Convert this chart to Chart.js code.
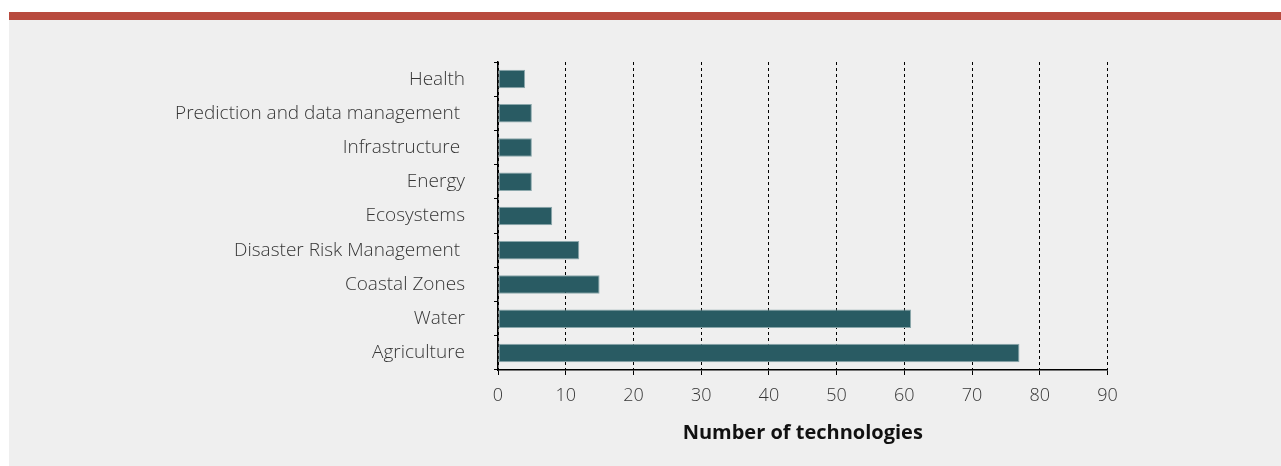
<!DOCTYPE html>
<html>
<head>
<meta charset="utf-8">
<title>Technologies by sector</title>
<script src="https://cdn.jsdelivr.net/npm/chart.js@4.4.1/dist/chart.umd.min.js"></script>
<style>
  html, body { margin: 0; padding: 0; background: #ffffff; }
  body { width: 1281px; height: 466px; position: relative; overflow: hidden; }
  #band { position: absolute; left: 9px; top: 12px; width: 1272px; height: 8px; background: #b84a3e; }
  #panel { position: absolute; left: 9px; top: 20px; width: 1272px; height: 446px; background: #efefef; }
  #wrap { position: absolute; left: 0; top: 0; width: 1281px; height: 466px; }
</style>
</head>
<body>
<div id="band"></div>
<div id="panel"></div>
<div id="wrap"><canvas id="chart" width="1281" height="466"></canvas></div>
<script>
// sectors, top to bottom as in the figure
const sectors = [
  'Health',
  'Prediction and data management ',
  'Infrastructure ',
  'Energy',
  'Ecosystems',
  'Disaster Risk Management ',
  'Coastal Zones',
  'Water',
  'Agriculture'
];

// number of technologies per sector
const techCounts = [4, 5, 5, 5, 8, 12, 15, 61, 77];

// x axis range / step
const xMin = 0;
const xMax = 90;
const xStep = 10;

const textColor = '#363636';

const ctx = document.getElementById('chart').getContext('2d');
new Chart(ctx, {
  type: 'bar',
  data: {
    labels: sectors,
    datasets: [{
      label: 'Number of technologies',
      data: techCounts,
      backgroundColor: '#295b63',
      borderColor: '#8aa7ab',
      borderWidth: 1,
      borderSkipped: false,
      barPercentage: 0.54,
      categoryPercentage: 1.0
    }]
  },
  options: {
    indexAxis: 'y',
    responsive: false,
    animation: false,
    layout: {
      padding: { left: 0, top: 62, right: 173.5, bottom: 0 }
    },
    plugins: {
      legend: { display: false },
      tooltip: { enabled: false }
    },
    scales: {
      x: {
        min: xMin,
        max: xMax,
        ticks: {
          stepSize: xStep,
          color: textColor,
          padding: 10,
          font: { family: '"Open Sans", sans-serif', size: 18, weight: 300 }
        },
        grid: {
          color: '#000000',
          lineWidth: 1,
          tickLength: 5,
          tickColor: '#000000',
          tickBorderDash: []
        },
        border: {
          display: true,
          color: '#000000',
          width: 1.5,
          dash: [3, 3]
        },
        title: {
          display: true,
          text: 'Number of technologies',
          color: '#111111',
          font: { family: '"Open Sans", sans-serif', size: 20, weight: 'bold' },
          padding: { top: 0, bottom: 21 }
        },
        afterFit: function (scale) { scale.height = 96; }
      },
      y: {
        grid: {
          offset: true,
          drawOnChartArea: false,
          drawTicks: true,
          tickLength: 4,
          tickColor: '#000000'
        },
        border: {
          display: true,
          color: '#000000',
          width: 1.5
        },
        ticks: {
          color: textColor,
          padding: 29,
          font: { family: '"Open Sans", sans-serif', size: 19, weight: 300 }
        },
        afterFit: function (scale) { scale.width = 498; }
      }
    }
  }
});
</script>
</body>
</html>
